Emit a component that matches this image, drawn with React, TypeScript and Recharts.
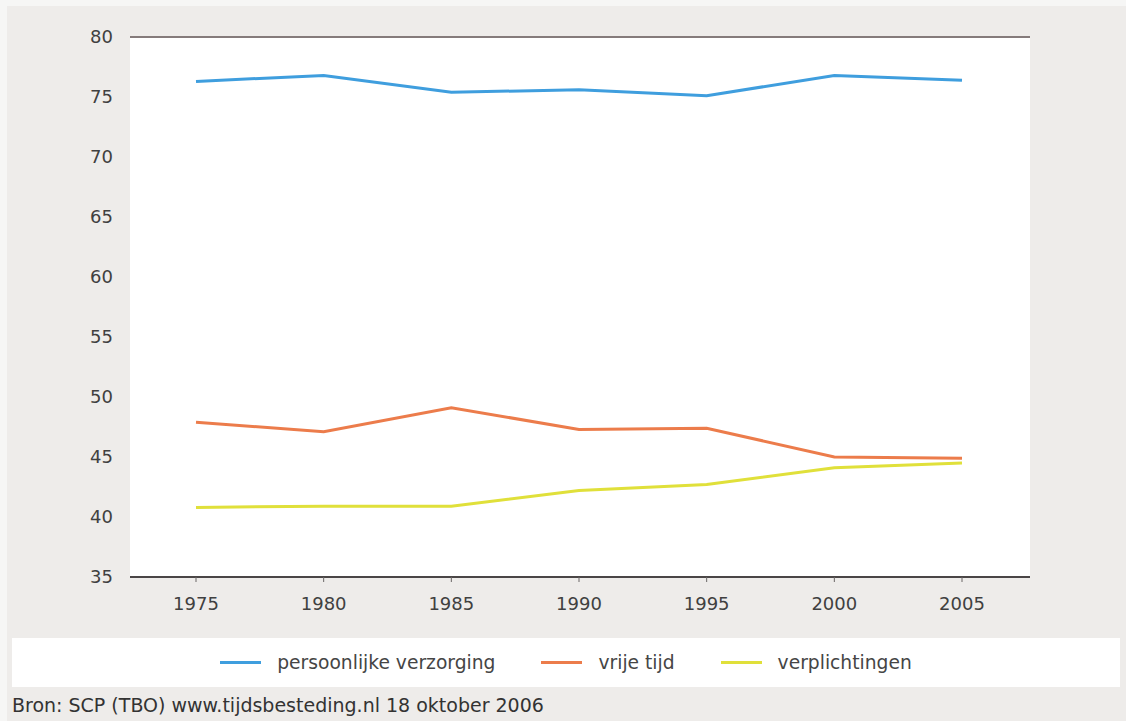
import React from "react";
import { LineChart, Line, XAxis, YAxis, CartesianGrid, ReferenceLine, Legend } from "recharts";

const years = ["1975", "1980", "1985", "1990", "1995", "2000", "2005"];
const persoonlijkeVerzorging = [76.3, 76.8, 75.4, 75.6, 75.1, 76.8, 76.4];
const vrijeTijd = [47.9, 47.1, 49.1, 47.3, 47.4, 45.0, 44.9];
const verplichtingen = [40.8, 40.9, 40.9, 42.2, 42.7, 44.1, 44.5];
const yTicks = [35, 40, 45, 50, 55, 60, 65, 70, 75, 80];
const seriesNames = ["persoonlijke verzorging", "vrije tijd", "verplichtingen"];

const data = years.map((y, i) => ({
  year: y,
  pv: persoonlijkeVerzorging[i],
  vt: vrijeTijd[i],
  vp: verplichtingen[i],
}));

const FONT = "'DejaVu Sans', Verdana, sans-serif";

const renderLegend = (props: any) => {
  const payload = [...(props.payload || [])].sort(
    (a: any, b: any) => seriesNames.indexOf(a.value) - seriesNames.indexOf(b.value)
  );
  return (
    <div
      style={{
        width: 1108,
        height: 49,
        background: "#ffffff",
        display: "flex",
        alignItems: "center",
        justifyContent: "center",
        gap: 46,
        fontFamily: FONT,
        fontSize: 18.7,
        color: "#454545",
      }}
    >
      {payload.map((p: any) => (
        <div key={p.value} style={{ display: "flex", alignItems: "center" }}>
          <div style={{ width: 41, height: 3, background: p.color, marginRight: 16 }} />
          <span>{p.value}</span>
        </div>
      ))}
    </div>
  );
};

export default function App() {
  return (
    <div
      style={{
        position: "fixed",
        left: 0,
        top: 0,
        width: 1126,
        height: 721,
        background: "#f6f6f5",
        overflow: "hidden",
      }}
    >
      <div
        style={{
          position: "absolute",
          left: 7,
          top: 6,
          width: 1119,
          height: 715,
          background: "#eeecea",
        }}
      />
      <div style={{ position: "absolute", left: 0, top: 0 }}>
        <LineChart
          width={1126}
          height={721}
          data={data}
          margin={{ top: 37, right: 96, bottom: 114, left: 0 }}
        >
          <rect x={130} y={37} width={900} height={540} fill="#ffffff" />
          <CartesianGrid vertical={false} stroke="#e2e2e2" strokeWidth={1} />
          <XAxis
            dataKey="year"
            padding={{ left: 66, right: 68 }}
            height={30}
            axisLine={{ stroke: "#4a4646", strokeWidth: 2 }}
            tickLine={{ stroke: "#6a6666", strokeWidth: 1 }}
            tickSize={5}
            tickMargin={15}
            tick={{ fill: "#404040", fontSize: 18, fontFamily: FONT }}
          />
          <YAxis
            domain={[35, 80]}
            ticks={yTicks}
            width={130}
            axisLine={false}
            tickLine={false}
            tickSize={0}
            tickMargin={17}
            interval={0}
            tick={{ fill: "#404040", fontSize: 18, fontFamily: FONT }}
          />
          <ReferenceLine y={80} stroke="#857b7b" strokeWidth={2} />
          <Legend
            layout="vertical"
            align="center"
            verticalAlign="middle"
            content={renderLegend}
            wrapperStyle={{ position: "absolute", left: 12, top: 638, width: 1108, height: 49 }}
          />
          <Line
            name={seriesNames[0]}
            dataKey="pv"
            stroke="#3f9ede"
            strokeWidth={3}
            dot={false}
            isAnimationActive={false}
          />
          <Line
            name={seriesNames[1]}
            dataKey="vt"
            stroke="#ec7c4b"
            strokeWidth={3}
            dot={false}
            isAnimationActive={false}
          />
          <Line
            name={seriesNames[2]}
            dataKey="vp"
            stroke="#e0e03a"
            strokeWidth={3}
            dot={false}
            isAnimationActive={false}
          />
        </LineChart>
      </div>
      <div
        style={{
          position: "absolute",
          left: 12,
          top: 694,
          fontFamily: FONT,
          fontSize: 19,
          color: "#333333",
          whiteSpace: "nowrap",
        }}
      >
        Bron: SCP (TBO) www.tijdsbesteding.nl 18 oktober 2006
      </div>
    </div>
  );
}
